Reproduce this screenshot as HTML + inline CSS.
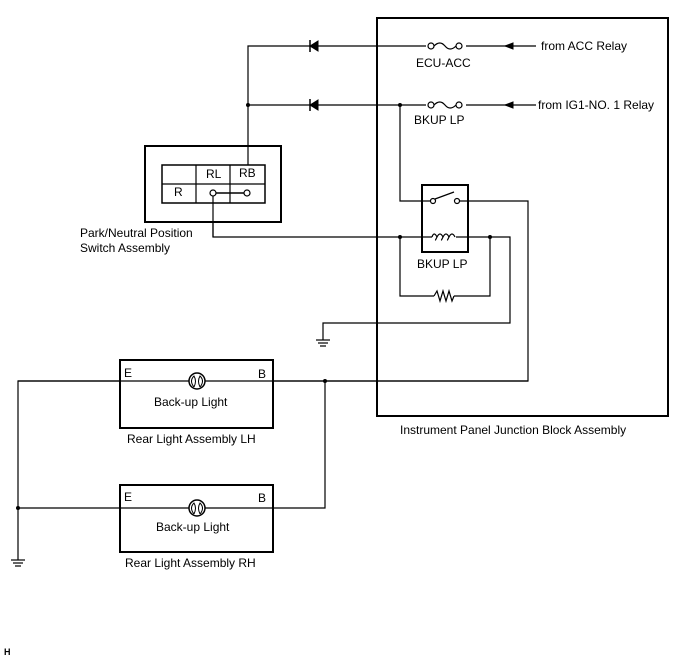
<!DOCTYPE html>
<html><head><style>body{margin:0;background:#fff}</style></head><body>
<svg width="688" height="658" viewBox="0 0 688 658" xmlns="http://www.w3.org/2000/svg" font-family="Liberation Sans, sans-serif" font-size="12" fill="none" stroke="#000">
<rect x="377" y="18" width="291" height="398" stroke-width="2"/>
<polyline points="536,46 248,46 248,165" stroke-width="1.2"/>
<line x1="248" y1="105" x2="536" y2="105" stroke-width="1.2"/>
<polygon points="310,46 318,41 318,51" fill="#000"/><line x1="310" y1="40" x2="310" y2="52" stroke-width="1.5"/>
<polygon points="310,105 318,100 318,110" fill="#000"/><line x1="310" y1="99" x2="310" y2="111" stroke-width="1.5"/>
<polygon points="505,46 513,43 513,49" fill="#000"/>
<polygon points="505,105 513,102 513,108" fill="#000"/>
<g stroke-width="1.2">
<rect x="426" y="40" width="40" height="12" fill="#fff" stroke="none"/>
<circle cx="431" cy="46" r="3" fill="#fff"/><circle cx="459" cy="46" r="3" fill="#fff"/>
<path d="M434,46 Q440,40 445,46 Q450,52 456,46"/>
<rect x="426" y="99" width="40" height="12" fill="#fff" stroke="none"/>
<circle cx="431" cy="105" r="3" fill="#fff"/><circle cx="459" cy="105" r="3" fill="#fff"/>
<path d="M434,105 Q440,99 445,105 Q450,111 456,105"/>
</g>
<circle cx="248" cy="105" r="2" fill="#000" stroke="none"/>
<circle cx="400" cy="105" r="2" fill="#000" stroke="none"/>
<polyline points="400,105 400,201 430,201" stroke-width="1.2"/>
<rect x="422" y="185" width="46" height="67" stroke-width="2"/>
<circle cx="433" cy="201" r="2.5" stroke-width="1.2" fill="#fff"/>
<circle cx="457" cy="201" r="2.5" stroke-width="1.2" fill="#fff"/>
<line x1="435" y1="199" x2="454" y2="192" stroke-width="1.2"/>
<polyline points="460,201 528,201 528,381 18,381 18,508" stroke-width="1.2"/>
<polyline points="213,197 213,237 510,237 510,323 323,323 323,340" stroke-width="1.2"/>
<rect x="432" y="231" width="24" height="10" fill="#fff" stroke="none"/>
<path d="M432,237 Q434,231 437,237 Q434,243 437,237 Q440,231 443,237 Q440,243 443,237 Q446,231 449,237 Q446,243 449,237 Q452,231 455,237" stroke-width="1.2"/>
<polyline points="400,237 400,296 490,296 490,237" stroke-width="1.2"/>
<rect x="434" y="290" width="20" height="12" fill="#fff" stroke="none"/>
<polyline points="434,296 437,291 440,301 443,291 446,301 449,291 452,301 454,296" stroke-width="1.2"/>
<circle cx="400" cy="237" r="2" fill="#000" stroke="none"/>
<circle cx="490" cy="237" r="2" fill="#000" stroke="none"/>
<g stroke-width="1.2"><line x1="316" y1="340" x2="330" y2="340"/><line x1="318" y1="343" x2="328" y2="343"/><line x1="320" y1="346" x2="326" y2="346"/>
<line x1="11" y1="560" x2="25" y2="560"/><line x1="13" y1="563" x2="23" y2="563"/><line x1="15" y1="566" x2="21" y2="566"/></g>
<line x1="18" y1="508" x2="18" y2="560" stroke-width="1.2"/>
<rect x="145" y="146" width="136" height="76" stroke-width="2" fill="#fff"/>
<rect x="162" y="165" width="103" height="38" stroke-width="1.5" fill="#fff"/>
<line x1="196" y1="165" x2="196" y2="203" stroke-width="1.2"/><line x1="230" y1="165" x2="230" y2="203" stroke-width="1.2"/><line x1="162" y1="184" x2="265" y2="184" stroke-width="1.2"/>
<line x1="248" y1="146" x2="248" y2="165" stroke-width="1.2"/>
<line x1="216" y1="193" x2="244" y2="193" stroke-width="1.5"/>
<circle cx="213" cy="193" r="3" fill="#fff" stroke-width="1.2"/><circle cx="247" cy="193" r="3" fill="#fff" stroke-width="1.2"/>
<line x1="213" y1="196" x2="213" y2="237" stroke-width="1.2"/>
<rect x="120" y="360" width="153" height="68" stroke-width="2" fill="#fff"/>
<rect x="120" y="485" width="153" height="67" stroke-width="2" fill="#fff"/>
<line x1="18" y1="381" x2="528" y2="381" stroke-width="1.2"/>
<polyline points="18,508 325,508 325,381" stroke-width="1.2"/>
<circle cx="325" cy="381" r="2" fill="#000" stroke="none"/>
<circle cx="18" cy="508" r="2" fill="#000" stroke="none"/>
<g stroke-width="1.5"><circle cx="197" cy="381" r="8" fill="#fff"/><circle cx="197" cy="508" r="8" fill="#fff"/></g>
<path d="M194,387 Q189,381 194,376 Q197,381 194,387 M200,387 Q205,381 200,376 Q197,381 200,387 M194,514 Q189,508 194,503 Q197,508 194,514 M200,514 Q205,508 200,503 Q197,508 200,514" stroke-width="1"/>
<g fill="#000" stroke="none">
<text x="416" y="67">ECU-ACC</text>
<text x="414" y="124">BKUP LP</text>
<text x="417" y="268">BKUP LP</text>
<text x="541" y="50">from ACC Relay</text>
<text x="538" y="109">from IG1-NO. 1 Relay</text>
<text x="206" y="178">RL</text><text x="239" y="177">RB</text><text x="174" y="196">R</text>
<text x="80" y="237">Park/Neutral Position</text>
<text x="80" y="252">Switch Assembly</text>
<text x="400" y="434">Instrument Panel Junction Block Assembly</text>
<text x="124" y="377">E</text><text x="258" y="378">B</text>
<text x="154" y="406">Back-up Light</text>
<text x="127" y="443">Rear Light Assembly LH</text>
<text x="124" y="501">E</text><text x="258" y="502">B</text>
<text x="156" y="531">Back-up Light</text>
<text x="125" y="567">Rear Light Assembly RH</text>
<text x="4" y="655" font-size="9" font-weight="bold">H</text>
</g>
</svg>
</body></html>
